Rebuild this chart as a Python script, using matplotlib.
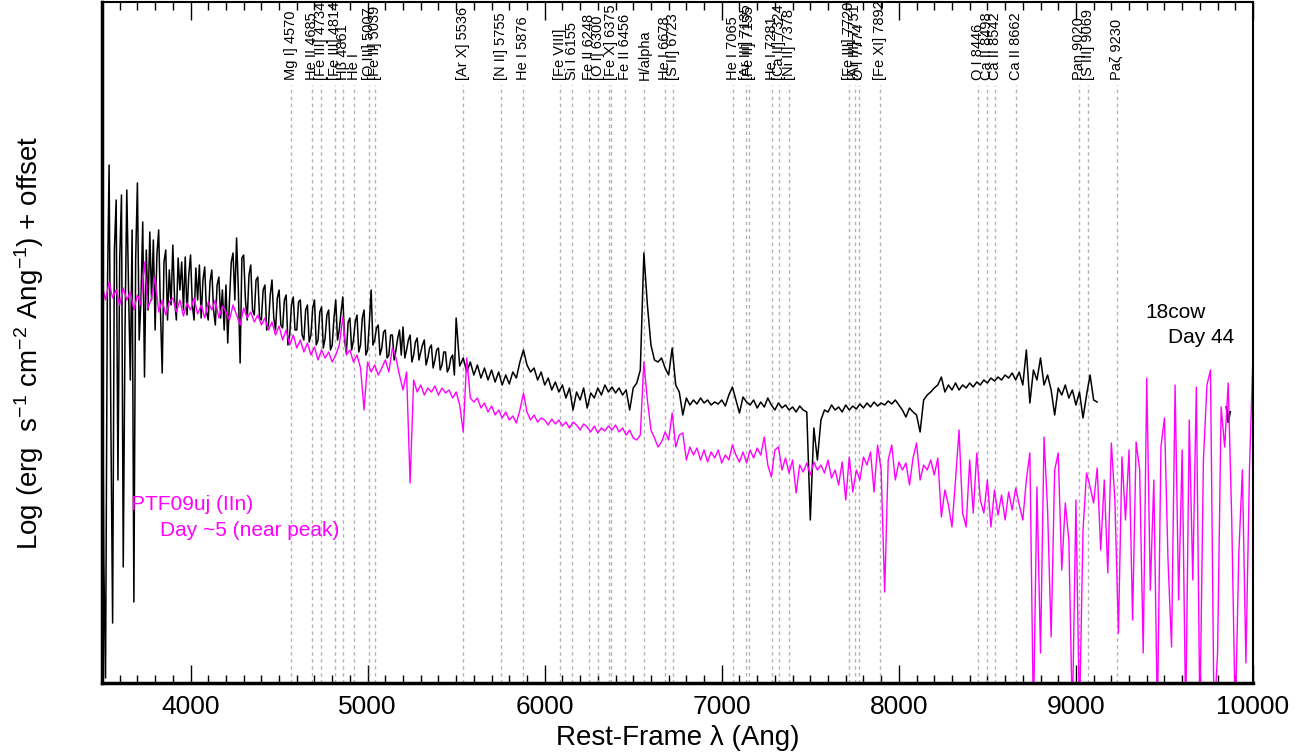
import numpy as np
import matplotlib.pyplot as plt
from matplotlib.ticker import MultipleLocator

plt.rcParams['font.family'] = ['Liberation Sans', 'DejaVu Sans']
plt.rcParams['mathtext.fontset'] = 'custom'
plt.rcParams['mathtext.rm'] = 'Liberation Sans'
plt.rcParams['mathtext.it'] = 'Liberation Sans:italic'

# 18cow, day 44 -- log flux + offset
# blue part: every 10 Ang from 3500
cow_blue_start, cow_blue_step = 3500, 10
cow_blue_flux = [
    -2.40, -5.60, -6.78, -3.00, -1.65, -4.20, -6.23, -2.50, -2.00, -4.80,  # 3500
    -2.60, -1.95, -5.67, -3.30, -1.90, -2.90, -3.80, -2.30, -6.02, -2.60,  # 3600
    -1.83, -3.40, -3.00, -2.22, -3.77, -2.50, -3.10, -2.32, -3.00, -2.40,  # 3700
    -3.30, -2.55, -2.30, -3.10, -3.73, -2.62, -2.50, -3.20, -2.70, -3.05,  # 3800
    -2.45, -3.00, -3.20, -2.58, -2.90, -2.62, -3.10, -2.57, -3.15, -2.75,  # 3900
    -2.55, -3.05, -3.20, -2.68, -3.00, -2.65, -3.18, -2.80, -2.67, -3.12,  # 4000
    -3.20, -2.82, -2.70, -3.10, -3.25, -2.85, -2.77, -3.18, -2.90, -3.30,  # 4100
    -2.85, -3.43, -3.00, -2.62, -2.53, -3.00, -2.38, -2.90, -3.63, -2.58,  # 4200
    -2.55, -3.00, -3.20, -2.75, -2.65, -3.10, -3.15, -2.80, -2.77, -3.18,  # 4300
    -3.20, -2.90, -2.85, -3.30, -3.25, -2.95, -2.80, -3.18, -3.30, -2.98,  # 4400
    -2.90, -3.25, -3.28, -3.00, -2.95, -3.45, -3.35, -3.05, -2.97, -3.30,  # 4500
    -3.30, -3.02, -3.00, -3.35, -3.40, -3.10, -3.05, -3.42, -3.35, -3.08,  # 4600
    -3.00, -3.45, -3.40, -3.12, -3.07, -3.48, -3.38, -3.15, -3.10, -3.50,  # 4700
    -3.45, -3.18, -3.00, -3.40, -3.30, -3.12, -2.97, -3.40, -3.53, -3.22,  # 4800
    -3.18, -3.50, -3.40, -3.22, -3.15, -3.52, -3.45, -3.18, -3.10, -3.55,  # 4900
    -3.50, -3.22, -2.90, -3.45, -3.40, -3.28, -3.25, -3.55, -3.48, -3.32,  # 5000
    -3.30, -3.58, -3.55, -3.35, -3.35, -3.60, -3.50, -3.38, -3.30, -3.55,  # 5100
    -3.27, -3.58, -3.50, -3.40, -3.35, -3.62, -3.55, -3.42, -3.38, -3.60,  # 5200
    -3.52, -3.45, -3.40, -3.65, -3.58, -3.48, -3.45, -3.68, -3.60, -3.50,  # 5300
    -3.48, -3.70, -3.65, -3.52, -3.52, -3.72, -3.68, -3.58, -3.55, -3.75,  # 5400
]
# red part: every 20 Ang from 5500
cow_red_start, cow_red_step = 5500, 20
cow_red_flux = [
    -3.18, -3.66, -3.58, -3.72, -3.62, -3.75, -3.65, -3.78, -3.68, -3.80,  # 5500
    -3.70, -3.82, -3.72, -3.85, -3.75, -3.84, -3.72, -3.78, -3.62, -3.50,  # 5700
    -3.65, -3.72, -3.68, -3.80, -3.72, -3.85, -3.78, -3.90, -3.82, -3.92,  # 5900
    -3.85, -3.98, -3.88, -4.10, -3.92, -4.00, -3.88, -4.08, -3.93, -3.98,  # 6100
    -3.88, -3.95, -3.85, -3.92, -3.87, -3.93, -3.88, -3.95, -3.90, -4.10,  # 6300
    -3.88, -3.83, -3.70, -2.53, -3.05, -3.45, -3.60, -3.62, -3.58, -3.68,  # 6500
    -3.75, -3.48, -3.85, -3.92, -4.15, -3.98, -4.05, -4.00, -4.04, -3.98,  # 6700
    -4.03, -4.00, -4.05, -4.02, -4.04, -4.00, -4.06, -3.95, -3.87, -4.00,  # 6900
    -4.13, -3.97, -4.02, -4.05, -4.00, -4.08, -4.02, -4.07, -3.98, -4.05,  # 7100
    -4.10, -4.03, -4.08, -4.05, -4.10, -4.07, -4.12, -4.06, -4.10, -4.12,  # 7300
    -5.20, -4.28, -4.60, -4.20, -4.10, -4.12, -4.05, -4.10, -4.07, -4.12,  # 7500
    -4.05, -4.10, -4.06, -4.09, -4.04, -4.08, -4.03, -4.07, -4.02, -4.06,  # 7700
    -4.03, -4.05, -4.01, -4.04, -4.00, -4.05, -4.10, -4.17, -4.08, -4.12,  # 7900
    -4.15, -4.32, -4.00, -3.95, -3.92, -3.88, -3.85, -3.77, -3.92, -3.85,  # 8100
    -3.90, -3.83, -3.90, -3.85, -3.88, -3.83, -3.87, -3.82, -3.85, -3.80,  # 8300
    -3.83, -3.78, -3.81, -3.77, -3.80, -3.75, -3.78, -3.73, -3.80, -3.72,  # 8500
    -3.85, -3.50, -4.03, -3.70, -3.80, -3.58, -3.85, -3.75, -3.90, -4.15,  # 8700
    -3.88, -3.95, -3.85, -3.98, -3.90, -4.05, -3.92, -4.18, -3.95, -3.75,  # 8900
    -4.00, -4.02,                                                          # 9100
]
# small stray piece of the 18cow spectrum near 9860 Ang
cow_tail_wl = [9850, 9860, 9870]
cow_tail_flux = [-4.07, -4.22, -4.12]

# PTF09uj (IIn), day ~5 -- sampled every 20 Ang from 3500
ptf_start, ptf_step = 3500, 20
ptf_flux = [
    -2.85, -3.00, -2.82, -2.98, -2.90, -3.05, -2.88, -3.00, -2.92, -3.10,  # 3500
    -2.95, -3.05, -2.62, -3.08, -2.98, -2.77, -3.12, -3.00, -3.15, -3.02,  # 3700
    -2.98, -3.12, -3.00, -3.16, -3.03, -3.10, -2.98, -3.14, -3.05, -3.18,  # 3900
    -3.02, -3.10, -3.00, -3.18, -3.06, -3.12, -3.20, -3.05, -3.15, -3.25,  # 4100
    -3.08, -3.18, -3.12, -3.22, -3.15, -3.25, -3.18, -3.30, -3.22, -3.35,  # 4300
    -3.26, -3.40, -3.30, -3.45, -3.35, -3.48, -3.40, -3.52, -3.43, -3.55,  # 4500
    -3.47, -3.60, -3.50, -3.58, -3.52, -3.62, -3.55, -3.45, -3.17, -3.55,  # 4700
    -3.50, -3.62, -3.55, -3.68, -4.10, -3.62, -3.72, -3.65, -3.75, -3.68,  # 4900
    -3.60, -3.72, -3.48, -3.58, -3.75, -3.90, -3.72, -4.83, -3.80, -3.92,  # 5100
    -3.85, -3.95, -3.88, -3.92, -3.86, -3.95, -3.88, -3.93, -3.90, -3.98,  # 5300
    -3.92, -4.05, -4.32, -3.58, -3.98, -4.02, -3.98, -4.08, -4.03, -4.12,  # 5500
    -4.06, -4.15, -4.10, -4.18, -4.12, -4.20, -4.16, -4.23, -4.10, -3.93,  # 5700
    -4.12, -4.20, -4.15, -4.22, -4.18, -4.20, -4.25, -4.19, -4.24, -4.20,  # 5900
    -4.26, -4.22, -4.28, -4.22, -4.25, -4.30, -4.24, -4.27, -4.32, -4.26,  # 6100
    -4.33, -4.28, -4.31, -4.26, -4.30, -4.25, -4.32, -4.28, -4.35, -4.30,  # 6300
    -4.38, -4.40, -4.35, -3.62, -4.00, -4.30, -4.38, -4.47, -4.42, -4.32,  # 6500
    -4.40, -4.13, -4.47, -4.35, -4.33, -4.60, -4.47, -4.55, -4.48, -4.60,  # 6700
    -4.50, -4.62, -4.52, -4.58, -4.50, -4.63, -4.55, -4.60, -4.45, -4.55,  # 6900
    -4.62, -4.52, -4.63, -4.50, -4.58, -4.48, -4.55, -4.37, -4.65, -4.77,  # 7100
    -4.50, -4.47, -4.70, -4.58, -4.73, -4.60, -4.93, -4.65, -4.72, -4.63,  # 7300
    -4.75, -4.62, -4.70, -4.65, -4.73, -4.60, -4.78, -4.70, -4.85, -4.62,  # 7500
    -5.00, -4.57, -4.92, -4.70, -4.80, -4.57, -4.65, -4.52, -4.92, -4.45,  # 7700
    -4.70, -5.92, -4.60, -4.45, -4.80, -4.62, -4.70, -4.63, -4.85, -4.58,  # 7900
    -4.43, -4.80, -4.65, -4.70, -4.60, -4.75, -4.58, -5.17, -4.90, -5.05,  # 8100
    -5.27, -4.80, -4.30, -5.13, -5.27, -4.60, -5.13, -4.53, -5.00, -5.13,  # 8300
    -4.80, -5.27, -4.90, -5.15, -4.95, -5.20, -4.92, -5.10, -4.88, -5.05,  # 8500
    -5.20, -4.80, -4.53, -7.20, -4.87, -6.53, -4.37, -5.10, -6.37, -4.70,  # 8700
    -4.53, -5.70, -5.03, -5.40, -7.20, -5.00, -7.20, -5.30, -4.73, -4.87,  # 8900
    -5.03, -4.68, -5.50, -4.80, -5.73, -4.43, -5.00, -6.33, -4.57, -5.20,  # 9100
    -4.50, -6.20, -4.42, -4.70, -6.53, -3.78, -5.90, -4.80, -7.20, -4.47,  # 9300
    -4.18, -5.60, -6.47, -3.85, -6.00, -4.50, -7.20, -4.20, -5.80, -3.87,  # 9500
    -7.20, -4.60, -3.85, -3.70, -7.20, -6.53, -4.07, -4.47, -3.83, -5.20,  # 9700
    -7.20, -5.53, -4.70, -6.63, -4.70, -3.53,                              # 9900
]

# identified lines: wavelength and label
line_wl = [4570, 4685, 4734, 4814, 4861, 4922, 5007, 5039, 5536, 5755,
           5876, 6087, 6155, 6248, 6300, 6364, 6375, 6456, 6563, 6678,
           6723, 7065, 7135, 7155, 7281, 7324, 7378, 7720, 7751, 7774,
           7892, 8446, 8498, 8542, 8662, 9020, 9069, 9230]
line_names = ['Mg I] 4570', 'He II 4685', '[Fe III] 4734', '[Fe III] 4814',
              'H\u03b2 4861', 'He I', '[O III] 5007', '[Fe II] 5039',
              '[Ar X] 5536', '[N II] 5755', 'He I 5876', '[Fe VIII]',
              'Si I 6155', 'Fe II 6248', '[O I] 6300', '', '[Fe X] 6375',
              'Fe II 6456', 'H/alpha', 'He I 6678', '[S II] 6723',
              'He I 7065', '[Ar III] 7135', '[Fe II] 7155', 'He I 7281',
              '[Ca II] 7324', '[Ni II] 7378', '[Fe III] 7720',
              '[Ar III] 7751', 'O I 7774', '[Fe XI] 7892', 'O I 8446',
              'Ca II 8498', 'Ca II 8542', 'Ca II 8662', 'Pa\u03b7 9020',
              '[S III] 9069', 'Pa\u03b6 9230']

cow_wl = np.concatenate([
    cow_blue_start + cow_blue_step * np.arange(len(cow_blue_flux)),
    cow_red_start + cow_red_step * np.arange(len(cow_red_flux))])
cow_flux = cow_blue_flux + cow_red_flux
ptf_wl = ptf_start + ptf_step * np.arange(len(ptf_flux))

fig = plt.figure(figsize=(13.09, 7.56), dpi=100)
ax = fig.add_axes([102 / 1309, 1 - 683 / 756, 1151 / 1309, 681 / 756])

# line markers
ax.vlines(line_wl, -6.83, -0.85, colors='#b4b4b4', linestyles=(0, (2.5, 2.5)), lw=1)
for wl, name in zip(line_wl, line_names):
    if name:
        ax.text(wl, -0.80, name, rotation=90, ha='center', va='bottom',
                fontsize=10.5, color='black')

ax.plot(cow_wl, cow_flux, color='black', lw=1.1)
ax.plot(cow_tail_wl, cow_tail_flux, color='black', lw=1.5)
ax.plot(ptf_wl, ptf_flux, color='#ff00ff', lw=1)

ax.text(9390, -3.12, '18cow', fontsize=15, va='center')
ax.text(9520, -3.37, 'Day 44', fontsize=15, va='center')
ax.text(3664, -5.05, 'PTF09uj (IIn)', fontsize=15, va='center', color='#ff00ff')
ax.text(3828, -5.30, 'Day ~5 (near peak)', fontsize=15, va='center', color='#ff00ff')

ax.set_xlim(3500, 10000)
ax.set_ylim(-6.83, -0.02)
ax.xaxis.set_major_locator(MultipleLocator(1000))
ax.xaxis.set_minor_locator(MultipleLocator(100))
ax.set_yticks([])
ax.tick_params(axis='x', which='both', direction='in', top=True, labelsize=19, pad=9)
ax.tick_params(axis='x', which='major', length=13, width=1)
ax.tick_params(axis='x', which='minor', length=6, width=1)
for side in ['left', 'bottom']:
    ax.spines[side].set_linewidth(2.5)
for side in ['top', 'right']:
    ax.spines[side].set_linewidth(1.5)

ax.set_xlabel('Rest-Frame \u03bb (Ang)', fontsize=20, labelpad=4)
ax.set_ylabel(r'Log (erg  s$^{-1}$ cm$^{-2}$ Ang$^{-1}$) + offset', fontsize=20, labelpad=40)

plt.savefig('out.png', dpi=100)
